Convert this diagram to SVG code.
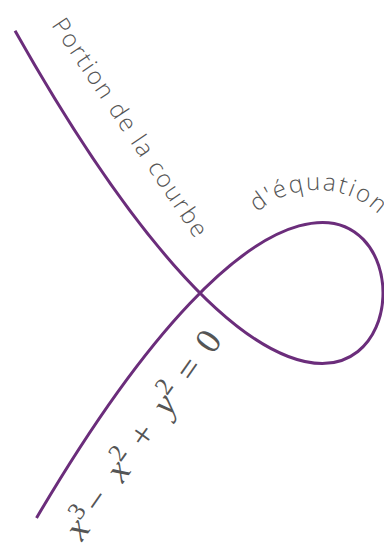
<svg xmlns="http://www.w3.org/2000/svg" width="384" height="546" viewBox="0 0 384 546">
<style>
.curve{fill:none;stroke:#6b2d7b;stroke-width:3;stroke-linecap:butt}
.lbl{font-family:"Open Sans","DejaVu Sans",sans-serif;font-weight:300;font-size:24px;fill:#555}
.math{font-family:"Liberation Serif","DejaVu Serif",serif;font-size:36px;fill:#555}
.it{font-style:italic}
.sup{font-size:25px}
</style>
<defs>
<path id="arc" d="M 227,280 A 90,90 0 0 1 407,280"/>
</defs>
<g id="connectors">
<path class="curve" d="M 15.04,30.72 C 498.39,888.37 505.54,-279.69 36.51,517.96"/>
</g>
<g id="label-portion">
<text class="lbl" letter-spacing="2" transform="translate(51,25) rotate(56)">Portion de la courbe</text>
</g>
<g id="label-equation">
<text class="lbl" font-size="25" letter-spacing="2"><textPath href="#arc" startOffset="76">d'équation</textPath></text>
</g>
<g id="formula">
<text class="math" transform="translate(82,542) rotate(-55)"><tspan x="0" class="it">x</tspan><tspan class="sup" dy="-14">3</tspan><tspan x="32" dy="14">−</tspan><tspan x="71" class="it">x</tspan><tspan class="sup" dy="-14">2</tspan><tspan x="112" dy="14">+</tspan><tspan x="152" class="it">y</tspan><tspan class="sup" dy="-14">2</tspan><tspan x="193" dy="14">=</tspan><tspan x="228">0</tspan></text>
</g>
</svg>
